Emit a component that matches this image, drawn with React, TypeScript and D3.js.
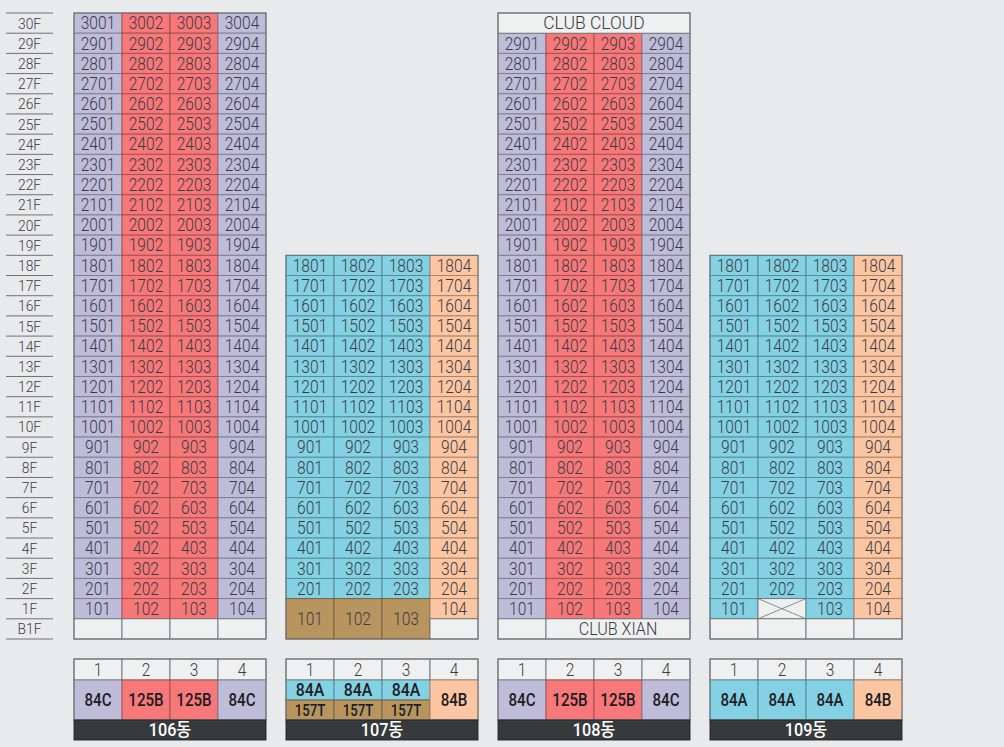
import * as d3 from "d3";

const floors = ["30F", "29F", "28F", "27F", "26F", "25F", "24F", "23F", "22F", "21F", "20F", "19F", "18F", "17F", "16F", "15F", "14F", "13F", "12F", "11F", "10F", "9F", "8F", "7F", "6F", "5F", "4F", "3F", "2F", "1F", "B1F"];
const lines = [1, 2, 3, 4];
const buildings = ["106동", "107동", "108동", "109동"];
const topFloors = [30, 18, 29, 18];
const planTypes = [
    ["84C", "125B", "125B", "84C"],
    ["84A", "84A", "84A", "84B"],
    ["84C", "125B", "125B", "84C"],
    ["84A", "84A", "84A", "84B"],
];
const lowPlanLines107 = [1, 2, 3];

const colors: Record<string, string> = {
    "84A": "#83d1e3",
    "84B": "#fcc6a2",
    "84C": "#bfbcd9",
    "125B": "#f67878",
    "157T": "#b8955f",
};
const emptyFill = "#eff0f0";
const border = "#6d7275";
const textColor = "#3b3b46";
const font = "Roboto, 'Noto Sans CJK KR', sans-serif";

const width = 1004;
const height = 747;

const y = d3.scaleBand<string>().domain(floors).range([13, 639]);
const block = d3.scaleBand<string>().domain(buildings).range([74, 902]).paddingInner(20 / 212);
const col = d3.scaleBand<number>().domain(lines).range([0, block.bandwidth()]);

const rowH = y.bandwidth();

const edge = (fill: string) => fill === emptyFill ? border : d3.color(fill)!.darker(1.2).formatHex();

// 글자 폭이 좁은 폰트 느낌을 내려고 가로로 살짝 눌러서 그림
function Label({cx, cy, label, size = 17.5, color = textColor, weight = 300, squeeze = 0.89}: {
    cx: number, cy: number, label: string, size?: number, color?: string, weight?: number, squeeze?: number
}) {
    return (
        <text transform={`translate(${cx},${cy + size * 0.355}) scale(${squeeze},1)`} textAnchor="middle" fontSize={size}
              fill={color} fontWeight={weight} fontFamily={font}>{label}</text>
    );
}

function Cell({x, yy, w, h, fill, label, size, color, weight, squeeze}: {
    x: number, yy: number, w: number, h: number, fill: string, label?: string,
    size?: number, color?: string, weight?: number, squeeze?: number
}) {
    return (
        <g>
            <rect x={x} y={yy} width={w} height={h} fill={fill} stroke={edge(fill)} strokeWidth={0.9} />
            {label && <Label cx={x + w / 2} cy={yy + h / 2} label={label} size={size} color={color} weight={weight} squeeze={squeeze} />}
        </g>
    );
}

function Building({index}: {index: number}) {
    const name = buildings[index];
    const x0 = block(name)!;
    const bw = block.bandwidth();
    const cw = col.bandwidth();
    const types = planTypes[index];
    const cells = [];

    for (let f = topFloors[index]; f >= 1; f--) {
        for (const l of lines) {
            const cx = x0 + col(l)!;
            const cy = y(`${f}F`)!;
            const key = `${f}-${l}`;
            if (index === 1 && f === 1 && lowPlanLines107.includes(l)) {
                // 107동 1층 복층세대는 B1F까지 합쳐짐
                cells.push(<Cell key={key} x={cx} yy={cy} w={cw} h={rowH * 2} fill={colors["157T"]} label={`${100 + l}`} />);
            } else if (index === 3 && f === 1 && l === 2) {
                cells.push(
                    <g key={key}>
                        <Cell x={cx} yy={cy} w={cw} h={rowH} fill={emptyFill} />
                        <path d={`M${cx},${cy}L${cx + cw},${cy + rowH}M${cx + cw},${cy}L${cx},${cy + rowH}`} stroke={border} strokeWidth={0.8} fill="none" />
                    </g>
                );
            } else {
                cells.push(<Cell key={key} x={cx} yy={cy} w={cw} h={rowH} fill={colors[types[l - 1]]} label={`${f * 100 + l}`} />);
            }
        }
    }

    // 지하층
    const by = y("B1F")!;
    if (index === 2) {
        cells.push(<Cell key="b1" x={x0} yy={by} w={cw} h={rowH} fill={emptyFill} />);
        cells.push(<Cell key="xian" x={x0 + cw} yy={by} w={cw * 3} h={rowH} fill={emptyFill} label="CLUB XIAN" squeeze={0.92} />);
        cells.push(<Cell key="cloud" x={x0} yy={y("30F")!} w={bw} h={rowH} fill={emptyFill} label="CLUB CLOUD" squeeze={1.0} />);
    } else {
        for (const l of lines) {
            if (index === 1 && lowPlanLines107.includes(l)) continue;
            cells.push(<Cell key={`b-${l}`} x={x0 + col(l)!} yy={by} w={cw} h={rowH} fill={emptyFill} />);
        }
    }

    const top = index === 2 ? y("30F")! : y(`${topFloors[index]}F`)!;

    // 하단 범례
    const headTop = 659, typeTop = 680, nameTop = 720, nameBottom = 740;
    const dark = "#1d1d22";
    return (
        <g>
            {cells}
            <rect x={x0} y={top} width={bw} height={639 - top} fill="none" stroke={border} strokeWidth={1} />
            {lines.map((l, i) => {
                const cx = x0 + col(l)!;
                const isSplit = index === 1 && lowPlanLines107.includes(l);
                return (
                    <g key={l}>
                        <Cell x={cx} yy={headTop} w={cw} h={typeTop - headTop} fill={emptyFill} label={`${l}`} />
                        {isSplit ? (
                            <>
                                <Cell x={cx} yy={typeTop} w={cw} h={20} fill={colors[types[i]]} label={types[i]} color={dark} weight={500} size={18} squeeze={0.88} />
                                <Cell x={cx} yy={typeTop + 20} w={cw} h={20} fill={colors["157T"]} label="157T" color={dark} weight={500} size={17} squeeze={0.78} />
                            </>
                        ) : (
                            <Cell x={cx} yy={typeTop} w={cw} h={nameTop - typeTop} fill={colors[types[i]]} label={types[i]} color={dark} weight={500} size={18} squeeze={0.84} />
                        )}
                    </g>
                );
            })}
            <rect x={x0} y={headTop} width={bw} height={nameTop - headTop} fill="none" stroke={border} strokeWidth={1} />
            <Cell x={x0} yy={nameTop} w={bw} h={nameBottom - nameTop} fill="#363a3d" label={name} color="#ffffff" weight={500} size={18} squeeze={0.9} />
        </g>
    );
}

export default function App() {
    return (
        <svg width={width} height={height} style={{position: "fixed", left: 0, top: 0, display: "block", background: "#e9eaeb"}}>
            {floors.map((f) => (
                <g key={f}>
                    <line x1={6} x2={53} y1={y(f)!} y2={y(f)!} stroke={border} strokeWidth={1} />
                    <Label cx={29.5} cy={y(f)! + rowH / 2} label={f} size={15.5} />
                </g>
            ))}
            <line x1={6} x2={53} y1={639} y2={639} stroke={border} strokeWidth={1} />
            {buildings.map((b, i) => <Building key={b} index={i} />)}
        </svg>
    );
}
